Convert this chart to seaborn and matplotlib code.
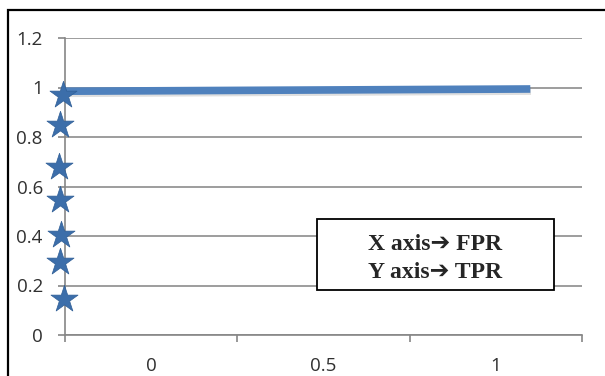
import matplotlib
matplotlib.use("Agg")
import matplotlib.pyplot as plt
import matplotlib.patches as mpatches
import matplotlib.patheffects as pe
import seaborn as sns
import pandas as pd

# data
line_fpr = [-0.25, 1.10]
line_tpr = [0.985, 0.994]
star_fpr = [-0.253, -0.264, -0.262, -0.264, -0.267, -0.264, -0.256]
star_tpr = [0.145, 0.294, 0.403, 0.544, 0.677, 0.847, 0.968]
x_labels = ["0", "0.5", "1"]
x_label_pos = [0, 0.5, 1]
y_ticks = [0, 0.2, 0.4, 0.6, 0.8, 1, 1.2]
y_labels = ["0", "0.2", "0.4", "0.6", "0.8", "1", "1.2"]
note_lines = ["X axis\u2794 FPR", "Y axis\u2794 TPR"]

sns.set_style("white")
plt.rcParams['font.family'] = ['Open Sans', 'DejaVu Sans']

W, H = 605, 376
fig = plt.figure(figsize=(W / 100, H / 100), dpi=100)
ax = fig.add_axes([65 / W, 1 - 335 / H, (582 - 65) / W, (335 - 38) / H])

line_df = pd.DataFrame({"fpr": line_fpr, "tpr": line_tpr})
star_df = pd.DataFrame({"fpr": star_fpr, "tpr": star_tpr})

sns.lineplot(data=line_df, x="fpr", y="tpr", ax=ax, color="#4F81BD", linewidth=5.5,
             solid_capstyle="butt", zorder=3,
             path_effects=[pe.SimpleLineShadow(offset=(0.5, -1.5), alpha=0.25, shadow_color="gray"), pe.Normal()])
sns.scatterplot(data=star_df, x="fpr", y="tpr", ax=ax, marker="*", s=420,
                color="#3C6EAA", edgecolor="#2F5E96", linewidth=0.5, zorder=5, clip_on=False)

ax.set_xlim(-0.25, 1.25)
ax.set_ylim(0, 1.2)
ax.set_xticks([-0.25, 0.25, 0.75, 1.25])
ax.set_xticklabels([])
ax.set_xticks(x_label_pos, minor=True)
ax.set_xticklabels(x_labels, minor=True)
ax.set_yticks(y_ticks)
ax.set_yticklabels(y_labels)
ax.tick_params(axis="x", which="major", direction="out", length=5, width=1.2, color="#868686", bottom=True)
ax.tick_params(axis="x", which="minor", length=0, pad=16, labelsize=13.5, labelcolor="#303030")
ax.tick_params(axis="y", direction="out", length=5, width=1.2, color="#868686", pad=11,
               labelsize=13.5, labelcolor="#303030", left=True)
ax.set_xlabel("")
ax.set_ylabel("")

ax.yaxis.grid(True, color="#8C8C8C", linewidth=1.2)
ax.xaxis.grid(False)
for side in ["top", "right"]:
    ax.spines[side].set_visible(False)
for side in ["left", "bottom"]:
    ax.spines[side].set_color("#868686")
    ax.spines[side].set_linewidth(1.2)

# note box
box = mpatches.Rectangle((317 / W, 1 - 290 / H), (554 - 317) / W, (290 - 219) / H,
                         transform=fig.transFigure, facecolor="white", edgecolor="black",
                         linewidth=1.3, zorder=10)
fig.patches.append(box)
for txt, yy in zip(note_lines, [245, 273]):
    fig.text(435 / W, 1 - yy / H, txt, ha="center", va="center", fontsize=17,
             fontweight="bold", family=["Liberation Serif", "DejaVu Sans"], zorder=11)

# outer frame
frame = mpatches.Rectangle((8 / W, -0.1), 1.2, 1 - 10 / H + 0.1, transform=fig.transFigure,
                           facecolor="none", edgecolor="black", linewidth=1.6, zorder=12)
fig.patches.append(frame)

fig.savefig("out.png", dpi=100)
